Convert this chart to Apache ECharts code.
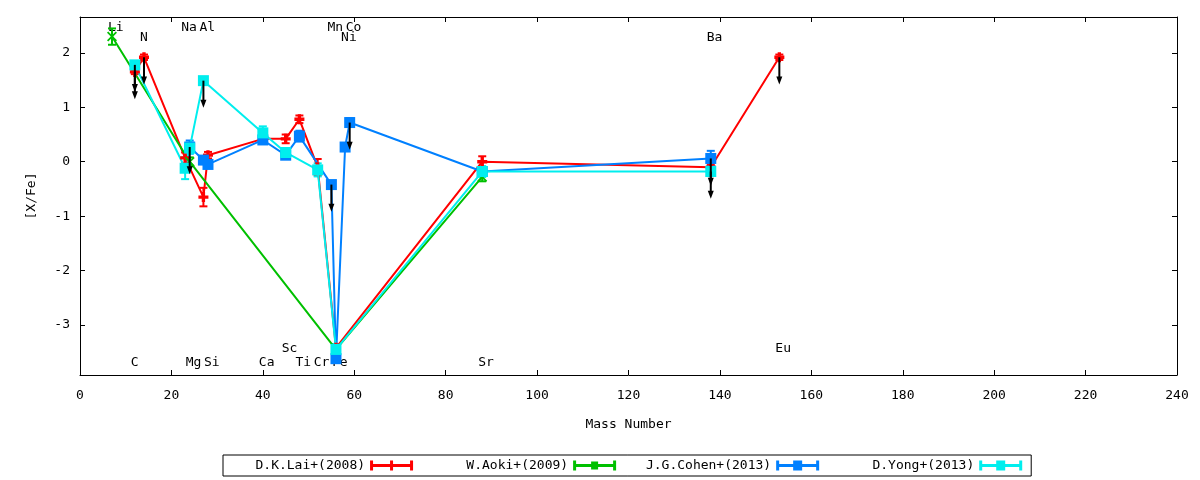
<!DOCTYPE html>
<html><head><meta charset="utf-8">
<script src="https://cdn.jsdelivr.net/npm/echarts@6/dist/echarts.min.js"></script>
<style>html,body{margin:0;padding:0;background:#fff}#c{width:1200px;height:480px}</style>
</head><body><div id="c"></div>
<script>
// ---- tick labels ----
const xTicks = [0, 20, 40, 60, 80, 100, 120, 140, 160, 180, 200, 220, 240];
const yTicks = [-3, -2, -1, 0, 1, 2];

// ---- series: mass number, [X/Fe], error, upper-limit flag ----
const laiMass = [12, 14, 23, 27, 28, 40, 45, 48, 52, 56, 88, 138, 153];
const laiVal  = [1.65, 1.92, 0.07, -0.65, 0.12, 0.42, 0.42, 0.78, -0.10, -3.42, 0.00, -0.10, 1.92];
const laiErr  = [0.04, 0.05, 0.10, 0.17, 0.06, 0.08, 0.08, 0.07, 0.15, 0.05, 0.10, 0.05, 0.05];
const laiLim  = [1, 1, 0, 0, 0, 0, 0, 0, 0, 0, 0, 0, 1];

const aokiMass = [7, 24, 56, 88];
const aokiVal  = [2.30, 0.00, -3.45, -0.28];
const aokiErr  = [0.15, 0.08, 0.08, 0.08];
const aokiLim  = [0, 0, 0, 0];

const cohenMass = [24, 27, 28, 40, 45, 48, 55, 56, 58, 59, 88, 138];
const cohenVal  = [0.27, 0.03, -0.05, 0.40, 0.12, 0.47, -0.42, -3.62, 0.27, 0.72, -0.18, 0.06];
const cohenErr  = [0.12, 0.05, 0.05, 0.05, 0.05, 0.10, 0.05, 0.05, 0.05, 0.08, 0.05, 0.14];
const cohenLim  = [1, 0, 0, 0, 0, 0, 1, 0, 0, 1, 0, 1];

const yongMass = [12, 23, 24, 27, 40, 45, 52, 56, 88, 138];
const yongVal  = [1.78, -0.12, 0.25, 1.49, 0.53, 0.17, -0.15, -3.45, -0.18, -0.18];
const yongErr  = [0.05, 0.20, 0.10, 0.05, 0.12, 0.08, 0.12, 0.10, 0.10, 0.05];
const yongLim  = [1, 0, 0, 1, 0, 0, 0, 0, 0, 1];

// ---- element labels ----
const elemNames = ['Li','C','N','Na','Mg','Al','Si','Ca','Sc','Ti','Cr','Mn','Fe','Co','Ni','Sr','Ba','Eu'];
const elemMass  = [7, 12, 14, 23, 24, 27, 28, 40, 45, 48, 52, 55, 56, 59, 58, 88, 138, 153];
const elemRow   = [0, 2, 1, 0, 2, 0, 2, 2, 3, 2, 2, 0, 2, 0, 1, 2, 1, 3];

const seriesNames = ['D.K.Lai+(2008)', 'W.Aoki+(2009)', 'J.G.Cohen+(2013)', 'D.Yong+(2013)'];
const colors = ['#ff0000', '#00c000', '#0080ff', '#00eeee'];

const FONT = 'DejaVu Sans Mono';
const Y_MIN = -3.92, Y_MAX = 2.66;
const ARROW_LEN = 0.5;

const plusSym = 'path://M3,0h3v3h3v3h-3v3h-3v-3h-3v-3h3z';
const crossSym = 'path://M0,1L1,0L4,3L7,0L8,1L5,4L8,7L7,8L4,5L1,8L0,7L3,4Z';
const symbols = [plusSym, crossSym, 'rect', 'rect'];
const symSizes = [10, 10, 11, 11];

const legendIcons = [
  'path://M0,3.5h43v3h-43zM0,0h3v10h-3zM40,0h3v10h-3zM20,0h3v10h-3z',
  'path://M0,3.5h43v3h-43zM0,0h3v10h-3zM40,0h3v10h-3zM18,1h7v8h-7z',
  'path://M0,3.5h43v3h-43zM0,0h3v10h-3zM40,0h3v10h-3zM17,0h9v10h-9z',
  'path://M0,3.5h43v3h-43zM0,0h3v10h-3zM40,0h3v10h-3zM17,0h9v10h-9z'
];

const sets = [
  [laiMass, laiVal, laiErr, laiLim],
  [aokiMass, aokiVal, aokiErr, aokiLim],
  [cohenMass, cohenVal, cohenErr, cohenLim],
  [yongMass, yongVal, yongErr, yongLim]
];

function errRender(color) {
  return function (params, api) {
    const x = api.value(0), y = api.value(1), e = api.value(2);
    const p1 = api.coord([x, y - e]), p2 = api.coord([x, y + e]);
    const hw = 4;
    const style = { stroke: color, lineWidth: 2 };
    return { type: 'group', children: [
      { type: 'line', shape: { x1: p1[0], y1: p1[1], x2: p2[0], y2: p2[1] }, style },
      { type: 'line', shape: { x1: p1[0] - hw, y1: p1[1], x2: p1[0] + hw, y2: p1[1] }, style },
      { type: 'line', shape: { x1: p2[0] - hw, y1: p2[1], x2: p2[0] + hw, y2: p2[1] }, style }
    ]};
  };
}

function arrowRender(params, api) {
  const x = api.value(0), y = api.value(1);
  const p = api.coord([x, y]), t = api.coord([x, y - ARROW_LEN]);
  return { type: 'group', children: [
    { type: 'line', shape: { x1: p[0], y1: p[1], x2: t[0], y2: t[1] - 4 }, style: { stroke: '#000', lineWidth: 2 } },
    { type: 'polygon', shape: { points: [[t[0], t[1]], [t[0] - 3, t[1] - 8], [t[0] + 3, t[1] - 8]] }, style: { fill: '#000' } }
  ]};
}

function labelRender(params, api) {
  const m = api.value(0), row = api.value(1);
  const top = api.coord([0, Y_MAX])[1], bot = api.coord([0, Y_MIN])[1];
  const rowY = [top + 10.5, top + 21, bot - 12.5, bot - 26];
  const px = api.coord([m, 0])[0];
  return { type: 'text', style: {
    text: elemNames[params.dataIndex], x: px - 4, y: rowY[row],
    fill: '#000', font: '13px "' + FONT + '"', textAlign: 'left', textVerticalAlign: 'middle'
  }};
}

const series = [];
series.push({
  type: 'custom', renderItem: labelRender, silent: true, clip: false, z: 1,
  encode: { x: 0, y: -1 },
  data: elemMass.map((m, i) => [m, elemRow[i]])
});
sets.forEach((s, k) => {
  const [mass, val, err] = s;
  series.push({
    name: seriesNames[k], type: 'line', z: 2,
    data: mass.map((m, i) => [m, val[i]]),
    lineStyle: { color: colors[k], width: 2 },
    itemStyle: { color: colors[k] },
    symbol: symbols[k], symbolSize: symSizes[k], showSymbol: true, showAllSymbol: true,
    animation: false, silent: true
  });
  series.push({
    type: 'custom', renderItem: errRender(colors[k]), silent: true, z: 2,
    encode: { x: 0, y: 1 },
    data: mass.map((m, i) => [m, val[i], err[i]])
  });
});
const arrowData = [];
sets.forEach(s => {
  const [mass, val, , lim] = s;
  mass.forEach((m, i) => { if (lim[i]) arrowData.push([m, val[i]]); });
});
series.push({
  type: 'custom', renderItem: arrowRender, silent: true, z: 3,
  encode: { x: 0, y: 1 }, data: arrowData
});

const axisLineStyle = { show: true, onZero: false, lineStyle: { color: '#000', width: 1 } };
const txt = { color: '#000', fontFamily: FONT, fontSize: 13 };
const padName = n => ' '.repeat(Math.max(0, 17 - n.length)) + n;

const option = {
  animation: false,
  backgroundColor: '#fff',
  grid: { left: 80, right: 23, top: 17, bottom: 105, containLabel: false },
  xAxis: [
    { type: 'value', min: 0, max: 240, position: 'bottom',
      axisLine: axisLineStyle,
      axisTick: { show: true, inside: true, length: 5, customValues: xTicks, lineStyle: { color: '#000' } },
      axisLabel: { customValues: xTicks, margin: 14, ...txt },
      splitLine: { show: false },
      name: 'Mass Number', nameLocation: 'middle', nameGap: 43, nameTextStyle: txt },
    { type: 'value', min: 0, max: 240, position: 'top',
      axisLine: axisLineStyle,
      axisTick: { show: true, inside: true, length: 5, customValues: xTicks, lineStyle: { color: '#000' } },
      axisLabel: { show: false }, splitLine: { show: false } }
  ],
  yAxis: [
    { type: 'value', min: Y_MIN, max: Y_MAX, position: 'left',
      axisLine: axisLineStyle,
      axisTick: { show: true, inside: true, length: 5, customValues: yTicks, lineStyle: { color: '#000' } },
      axisLabel: { customValues: yTicks, margin: 10, ...txt },
      splitLine: { show: false },
      name: '[X/Fe]', nameLocation: 'middle', nameGap: 42, nameTextStyle: txt },
    { type: 'value', min: Y_MIN, max: Y_MAX, position: 'right',
      axisLine: axisLineStyle,
      axisTick: { show: true, inside: true, length: 5, customValues: yTicks, lineStyle: { color: '#000' } },
      axisLabel: { show: false }, splitLine: { show: false } }
  ],
  legend: {
    left: 223, top: 455, orient: 'horizontal', align: 'right',
    padding: [4, 9, 4, 9], itemGap: 22, itemWidth: 43, itemHeight: 10,
    borderColor: '#000', borderWidth: 1, selectedMode: false,
    data: seriesNames.map((n, k) => ({ name: n, icon: legendIcons[k], itemStyle: { color: colors[k] } })),
    formatter: n => padName(n),
    textStyle: txt
  },
  series
};

const chart = echarts.init(document.getElementById('c'));
chart.setOption(option);
</script>
</body></html>
